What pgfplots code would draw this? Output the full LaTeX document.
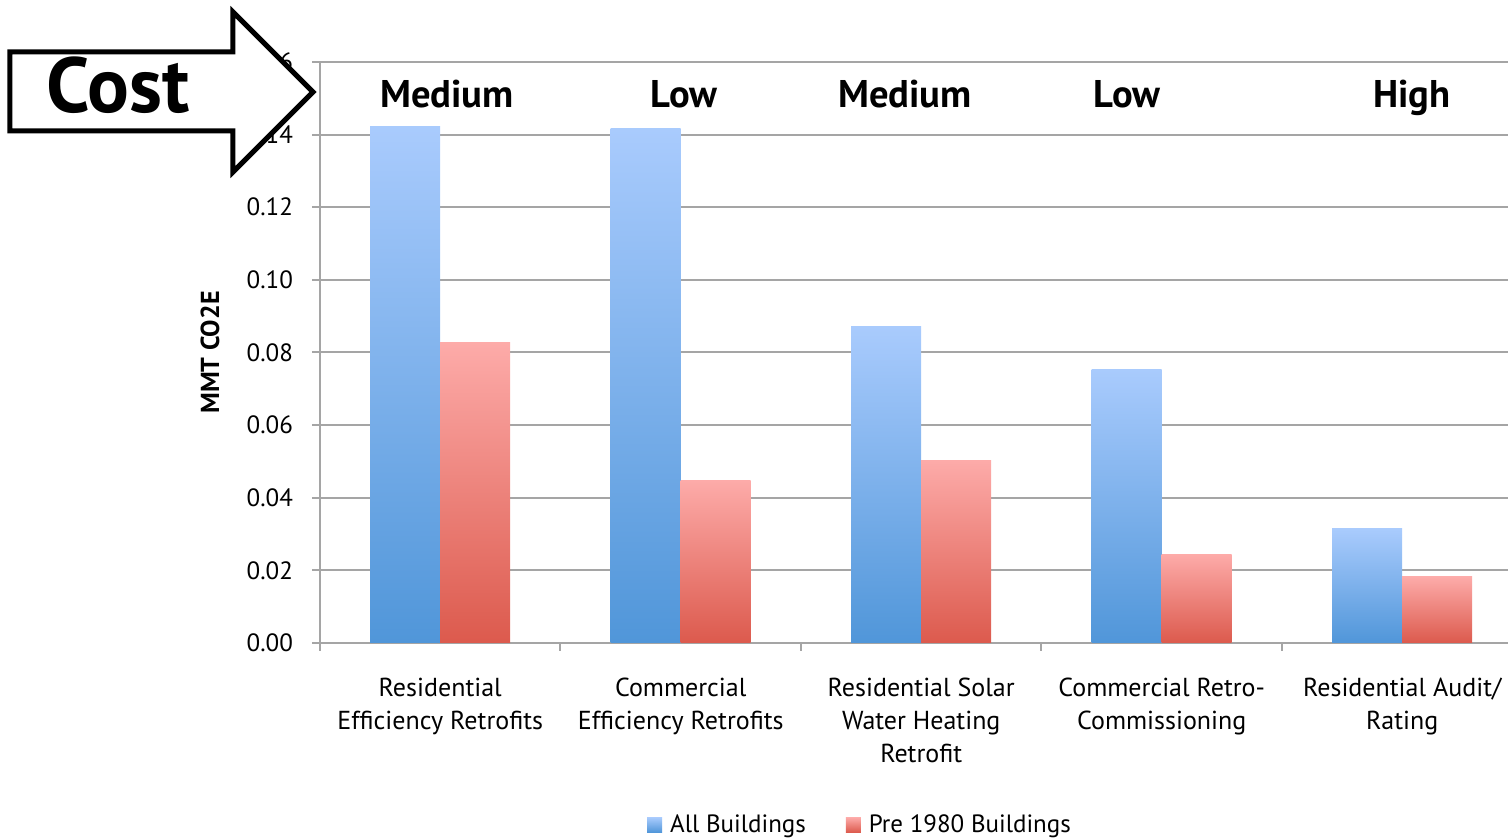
\documentclass[border=0pt]{standalone}
\usepackage{fontspec}
\setmainfont{PT Sans}
\usepackage{pgfplots}
\pgfplotsset{compat=1.18}
\definecolor{gridgray}{HTML}{A5A5A5}
\definecolor{blueTop}{HTML}{A9CBFD}
\definecolor{blueBot}{HTML}{5096D9}
\definecolor{redTop}{HTML}{FDABA9}
\definecolor{redBot}{HTML}{DC5A4D}

\begin{document}
\begin{tikzpicture}
\useasboundingbox (-160pt,-97.5pt) rectangle (594pt,321.5pt);
\begin{axis}[
  scale only axis, width=594pt, height=290.5pt,
  at={(0pt,0pt)}, anchor=south west,
  xmin=-0.5, xmax=4.44, ymin=0, ymax=0.16,
  axis x line=bottom, axis y line=left,
  axis line style={-, draw=gridgray, line width=1pt},
  ytick={0,0.02,0.04,0.06,0.08,0.10,0.12,0.14,0.16},
  scaled y ticks=false,
  /pgf/number format/fixed, /pgf/number format/fixed zerofill,
  /pgf/number format/precision=2, /pgf/number format/assume math mode=true,
  ymajorgrids, grid style={draw=gridgray, line width=1pt},
  tick align=outside, major tick length=4pt, minor tick length=4pt,
  tick style={draw=gridgray, line width=1pt},
  xtick={0,1,2,3,4},
  xticklabels={{Residential\\Efficiency Retrofits},{Commercial\\Efficiency Retrofits},{Residential Solar\\Water Heating\\Retrofit},{Commercial Retro-\\Commissioning},{Residential Audit/\\Rating}},
  every major x tick/.append style={draw=none},
  minor xtick={-0.5,0.5,1.5,2.5,3.5},
  xticklabel style={font=\fontsize{13}{16.5}\selectfont, align=center, anchor=north, yshift=-10pt},
  yticklabel style={font=\fontsize{12.5}{15}\selectfont, xshift=-6pt},
  ylabel={MMT CO2E},
  every axis y label/.style={at={(axis description cs:-0.0926,0.5)}, rotate=90, anchor=center, font=\bfseries\fontsize{13}{15}\selectfont},
  legend columns=2,
  legend style={at={(0.4554,-0.313)}, anchor=center, draw=none, font=\fontsize{12.5}{15}\selectfont, /tikz/every even column/.append style={column sep=18pt}},
  legend image code/.code={\path[#1,draw=none] (0pt,-3.75pt) rectangle (7.5pt,3.75pt); \path (9.5pt,0pt);},
  allb/.style={ybar, bar width=35pt, bar shift=-17.5pt, draw=none, top color=blueTop, bottom color=blueBot},
  preb/.style={ybar, bar width=35pt, bar shift=17.5pt, draw=none, top color=redTop, bottom color=redBot},
]
% All Buildings
\addplot[allb] coordinates {(0,0.1422)};
\addlegendentry{All Buildings}
% Pre 1980 Buildings
\addplot[preb] coordinates {(0,0.0828)};
\addlegendentry{Pre 1980 Buildings}
\addplot[allb, forget plot] coordinates {(1,0.1417)};
\addplot[allb, forget plot] coordinates {(2,0.0872)};
\addplot[allb, forget plot] coordinates {(3,0.0754)};
\addplot[allb, forget plot] coordinates {(4,0.0314)};
\addplot[preb, forget plot] coordinates {(1,0.0448)};
\addplot[preb, forget plot] coordinates {(2,0.0503)};
\addplot[preb, forget plot] coordinates {(3,0.0245)};
\addplot[preb, forget plot] coordinates {(4,0.0182)};
\end{axis}
\begin{scope}[every node/.style={font=\bfseries\fontsize{19.3}{22}\selectfont, anchor=base, inner sep=0pt}]
\node at (63.5pt,267.5pt) {Medium};
\node at (182pt,267.5pt) {Low};
\node at (292.5pt,267.5pt) {Medium};
\node at (403.5pt,267.5pt) {Low};
\node at (546pt,267.5pt) {High};
\end{scope}
\draw[line width=2.5pt, fill=white, miter limit=10] (-155pt,295.5pt) -- (-43.5pt,295.5pt) -- (-43.5pt,315.5pt) -- (-3.5pt,275.5pt) -- (-43.5pt,235.5pt) -- (-43.5pt,256pt) -- (-155pt,256pt) -- cycle;
\node[font=\bfseries\fontsize{39}{42}\selectfont, anchor=base, inner sep=0pt] at (-101pt,265pt) {Cost};
\end{tikzpicture}
\end{document}
